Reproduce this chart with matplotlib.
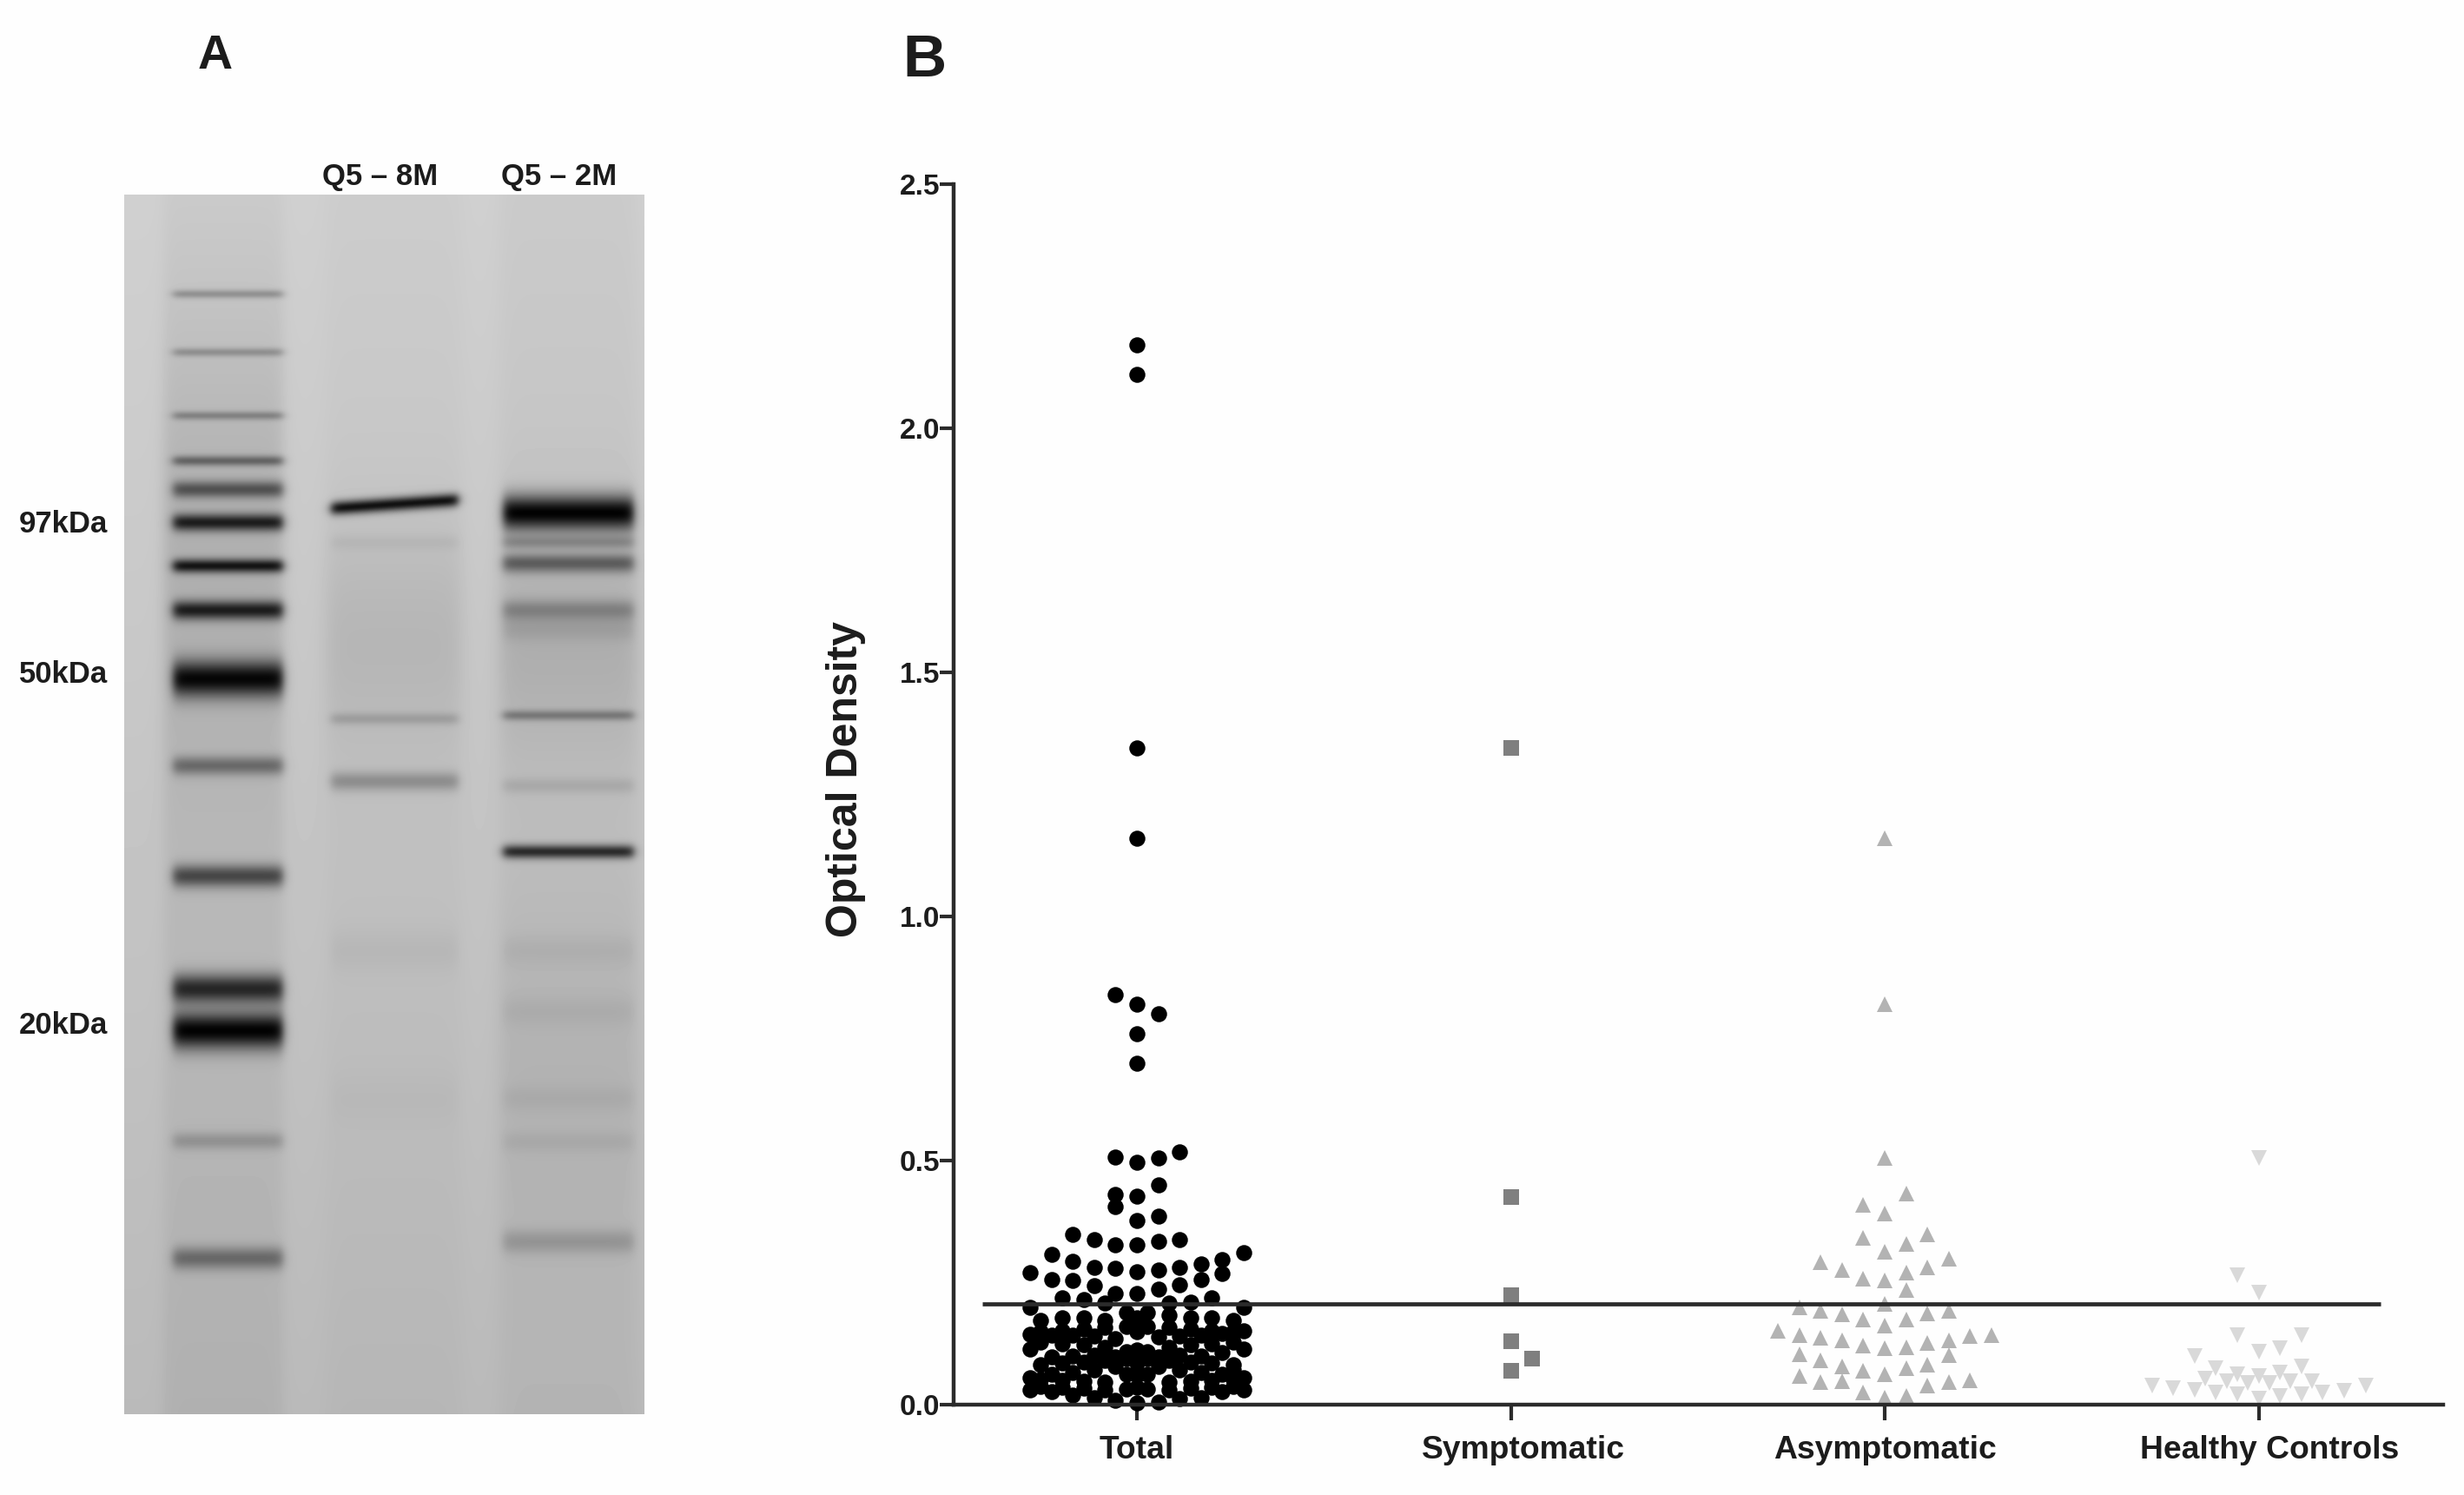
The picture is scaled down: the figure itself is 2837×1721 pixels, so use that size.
import numpy as np
import matplotlib
matplotlib.use("Agg")
import matplotlib.pyplot as plt
from matplotlib.transforms import ScaledTranslation

plt.rcParams['font.family'] = ['Liberation Sans', 'DejaVu Sans']
plt.rcParams['font.weight'] = 'bold'

FIG_W, FIG_H = 2837, 1721

categories = ["Total", "Symptomatic", "Asymptomatic", "Healthy Controls"]
label_shift_px = [0, 14, 0, 13]
yticks = [0.0, 0.5, 1.0, 1.5, 2.0, 2.5]
cutoff = 0.207

# Total group, values with their swarm column
total_slots = [0, 0, 0, 0, -1, 0, 1, 0, 0,
               -1, 0, 1, 2, 1, -1, -1, 0, 1, 0,
               -3, -2, -1, 0, 1, 2, 5, 4, 3, 2, 1, 0, -1, -2, -3, -4, -5, -4, -3, -2, -1, 0, 1, 2, 3, 4,
               -3.5, -2.5, -1.5, 1.5, 2.5, 3.5, -5, 5, 0, 0, 0, 4.5]
total_values = [2.17, 2.11, 1.345, 1.16, 0.84, 0.82, 0.80, 0.76, 0.70,
                0.507, 0.497, 0.505, 0.517, 0.451, 0.43, 0.406, 0.427, 0.387, 0.378,
                0.348, 0.338, 0.328, 0.328, 0.335, 0.338, 0.311, 0.298, 0.289, 0.281, 0.275, 0.273, 0.279, 0.281,
                0.294, 0.307, 0.27, 0.256, 0.254, 0.243, 0.228, 0.228, 0.236, 0.245, 0.256, 0.268,
                0.219, 0.215, 0.209, 0.209, 0.21, 0.218, 0.199, 0.199, 0.085, 0.06, 0.035, 0.071]

# dense block under the cutoff line, read row by row
half_slots = [-4.5, -3.5, -2.5, -1.5, -0.5, 0.5, 1.5, 2.5, 3.5, 4.5]
int_slots = [-5, -4, -3, -2, -1, 0, 1, 2, 3, 4, 5]
row_a = [0.172, 0.178, 0.178, 0.172, 0.188, 0.188, 0.184, 0.178, 0.178, 0.172]
row_b = [0.145, 0.142, 0.143, 0.140, 0.136, 0.178, 0.139, 0.140, 0.143, 0.146, 0.151]
row_c = [0.128, 0.125, 0.122, 0.118, 0.108, 0.108, 0.118, 0.122, 0.125, 0.128]
row_d = [0.113, 0.098, 0.100, 0.102, 0.098, 0.150, 0.098, 0.102, 0.100, 0.107, 0.113]
row_e = [0.082, 0.085, 0.088, 0.090, 0.095, 0.095, 0.090, 0.088, 0.085, 0.082]
row_f = [0.056, 0.062, 0.066, 0.072, 0.078, 0.112, 0.078, 0.072, 0.066, 0.062, 0.056]
row_g = [0.052, 0.050, 0.048, 0.046, 0.062, 0.062, 0.046, 0.048, 0.050, 0.052]
row_h = [0.030, 0.027, 0.020, 0.015, 0.009, 0.003, 0.006, 0.012, 0.015, 0.027, 0.030]
row_i = [0.037, 0.036, 0.034, 0.030, 0.032, 0.032, 0.030, 0.034, 0.036, 0.037]
row_j = [0.150, 0.152, 0.155, 0.158, 0.160, 0.160, 0.158, 0.155, 0.152, 0.150]

symptomatic_slots = [0, 0, 0, 0, 1, 0]
symptomatic_values = [1.345, 0.425, 0.225, 0.13, 0.095, 0.07]

asymptomatic_slots = [0, 0, 0, 1, -1, 0, 2, -1, 1, 0, 3, -3, 2, -2, 1, -1, 0, 1,
                      0, -4, -3, -2, -1, 0, 1, 2, 3,
                      -5, -4, -3, -2, -1, 0, 1, 2, 3, 4, 5,
                      -4, -3, 3, -2, -1, 0, 1, 2,
                      -4, -3, -2, 2, 3, 4, -1, 0, 1]
asymptomatic_values = [1.16, 0.82, 0.505, 0.433, 0.409, 0.391, 0.349, 0.341, 0.33, 0.313, 0.299, 0.291,
                       0.281, 0.275, 0.27, 0.258, 0.255, 0.235,
                       0.207, 0.199, 0.192, 0.185, 0.174, 0.162, 0.175, 0.187, 0.193,
                       0.151, 0.143, 0.137, 0.131, 0.121, 0.115, 0.117, 0.126, 0.132, 0.141, 0.143,
                       0.103, 0.091, 0.101, 0.078, 0.069, 0.063, 0.075, 0.081,
                       0.059, 0.047, 0.048, 0.039, 0.047, 0.049, 0.025, 0.015, 0.018]

healthy_slots = [0, -1, 0, -1, 2, 0, 1, -3, 2, -2, -1, 1, 0,
                 -2.5, -1.5, -0.5, 0.5, 1.5, 2.5,
                 -5, -4, -3, -2, -1, 0, 1, 2, 3, 4, 5]
healthy_values = [0.505, 0.265, 0.23, 0.143, 0.143, 0.109, 0.115, 0.099, 0.079, 0.075, 0.063, 0.066, 0.059,
                  0.054, 0.048, 0.045, 0.045, 0.048, 0.048,
                  0.04, 0.034, 0.03, 0.025, 0.021, 0.012, 0.018, 0.021, 0.025, 0.029, 0.039]

# gel bands: distance from the gel top, darkness, half thickness (pixels)
ladder_pos = [114, 181, 254, 306, 339, 377, 427, 478, 557, 657, 784, 914, 962, 1089, 1224]
ladder_dark = [0.26, 0.25, 0.30, 0.45, 0.55, 0.85, 0.90, 0.85, 0.98, 0.42, 0.62, 0.80, 1.0, 0.20, 0.42]
ladder_thick = [5, 5, 5, 6, 10, 10, 8, 11, 21, 11, 13, 17, 21, 10, 13]
lane2_pos = [356, 400, 603, 675, 870, 1040]
lane2_dark = [0.92, 0.05, 0.16, 0.26, 0.04, 0.02]
lane2_thick = [8, 9, 7, 11, 25, 30]
lane3_pos = [366, 400, 424, 478, 500, 599, 680, 756, 870, 940, 1040, 1090, 1205]
lane3_dark = [1.0, 0.25, 0.50, 0.28, 0.10, 0.34, 0.10, 0.78, 0.05, 0.05, 0.05, 0.06, 0.18]
lane3_thick = [20, 8, 11, 12, 14, 6, 9, 8, 18, 18, 15, 12, 14]


def gel_image():
    h, w = 1404, 599
    yy, xx = np.mgrid[0:h, 0:w]
    base = 206 - 22 * yy / h

    def lane_mask(x0, x1, soft=9.0):
        return 0.5 * (np.tanh((xx - x0) / soft) - np.tanh((xx - x1) / soft))

    # lanes are a bit darker than the gaps between them
    img = base.copy()
    ladder = lane_mask(45, 182, 9)
    lane2 = lane_mask(232, 388, 12)
    lane3 = lane_mask(432, 590, 12)
    img -= 10 * ladder * (0.5 + 0.5 * np.clip(yy / 300.0, 0, 1))
    img -= 4 * lane2 + 6 * lane3
    img -= 16 * ladder * np.exp(-((yy - 420) / 260.0) ** 2)
    img -= 14 * lane2 * np.exp(-((yy - 510) / 130.0) ** 2)
    img -= 20 * lane3 * np.exp(-((yy - 510) / 130.0) ** 2)
    img -= 8 * lane3 * np.exp(-((yy - 1000) / 200.0) ** 2)

    def add_bands(mask, pos, dark, thick, tilt=None):
        out = np.ones((h, w))
        for i in range(len(pos)):
            shift = 0 if tilt is None else tilt[i] * (xx - 310) / 75.0
            out *= 1 - dark[i] * np.exp(-np.abs((yy - pos[i] - shift) / thick[i]) ** 2.0) * mask
        return out

    img_ladder = add_bands(lane_mask(56, 182, 6), ladder_pos, ladder_dark, ladder_thick)
    img_lane2 = add_bands(lane_mask(238, 384, 6), lane2_pos, lane2_dark, lane2_thick,
                          tilt=[-5, 0, 0, 0, 0, 0])
    img_lane3 = add_bands(lane_mask(436, 586, 6), lane3_pos, lane3_dark, lane3_thick)
    img = img * img_ladder * img_lane2 * img_lane3
    return np.clip(img + 2, 0, 255)


def to_x(cat, slots):
    return cat + np.array(slots) * COL_W


fig = plt.figure(figsize=(FIG_W / 100, FIG_H / 100), dpi=100, facecolor='#fefefe')


def px_box(x0, y0, x1, y1):
    return [x0 / FIG_W, 1 - y1 / FIG_H, (x1 - x0) / FIG_W, (y1 - y0) / FIG_H]


def px_text(x, y, s, size, ha='center', color='#1c1c1c'):
    fig.text(x / FIG_W, 1 - y / FIG_H, s, fontsize=size, ha=ha, va='center', color=color)


# panel A, the gel
ax_gel = fig.add_axes(px_box(143, 224, 742, 1628))
ax_gel.imshow(gel_image(), cmap='gray', vmin=0, vmax=255, aspect='auto')
ax_gel.axis('off')

px_text(248, 65, "A", 40)
px_text(1064, 70, "B", 50)
px_text(438, 203, "Q5 – 8M", 25)
px_text(644, 203, "Q5 – 2M", 25)
px_text(22, 603, "97kDa", 25, ha='left')
px_text(22, 776, "50kDa", 25, ha='left')
px_text(22, 1180, "20kDa", 25, ha='left')

# panel B, the dot plot
ax = fig.add_axes(px_box(1098, 212, 2813, 1617))
ax.set_facecolor('none')
COL_W = 24.6 / 430.5
ax.set_xlim((1098 - 1309) / 430.5, (2813 - 1309) / 430.5)
ax.set_ylim(0, 2.5)

dense_slots = (half_slots + int_slots + half_slots + int_slots + half_slots + int_slots + half_slots + int_slots
               + half_slots + half_slots)
dense_values = row_a + row_b + row_c + row_d + row_e + row_f + row_g + row_h + row_i + row_j
ax.plot(to_x(0, total_slots + dense_slots), total_values + dense_values, 'o', color='black',
        ms=13.3, mew=0, clip_on=False, zorder=3)
ax.plot(to_x(1, symptomatic_slots), symptomatic_values, 's', color='#7f7f7f',
        ms=12.5, mew=0, clip_on=False, zorder=3)
ax.plot(to_x(2, asymptomatic_slots), asymptomatic_values, '^', color='#b3b3b3',
        ms=13.5, mew=0, clip_on=False, zorder=3)
ax.plot(to_x(3, healthy_slots), healthy_values, 'v', color='#d9d9d9',
        ms=13.5, mew=0, clip_on=False, zorder=3)
ax.plot([-0.413, 3.326], [cutoff, cutoff], color='#2b2b2b', lw=3.4, solid_capstyle='butt', zorder=4)

for side in ['top', 'right']:
    ax.spines[side].set_visible(False)
for side in ['left', 'bottom']:
    ax.spines[side].set_linewidth(3.2)
    ax.spines[side].set_color('#2b2b2b')
    ax.spines[side].set_zorder(5)

ax.set_yticks(yticks)
ax.set_yticklabels(["%.1f" % t for t in yticks], fontsize=24, color='#1c1c1c')
ax.set_xticks(range(len(categories)))
ax.set_xticklabels(categories, fontsize=26.8, color='#1c1c1c')
ax.tick_params(axis='y', length=11.5, width=3, pad=0, color='#2b2b2b')
ax.tick_params(axis='x', length=13, width=3, pad=12, color='#2b2b2b')
for lab, shift in zip(ax.get_xticklabels(), label_shift_px):
    lab.set_transform(lab.get_transform() + ScaledTranslation(shift / 100, 0, fig.dpi_scale_trans))

ax.set_ylabel("Optical Density", fontsize=36, fontweight='bold', color='#1c1c1c')
ax.yaxis.set_label_coords((997 - 1098) / 1715, (1617 - 897) / 1405)

fig.savefig("out.png", dpi=100, facecolor=fig.get_facecolor())
